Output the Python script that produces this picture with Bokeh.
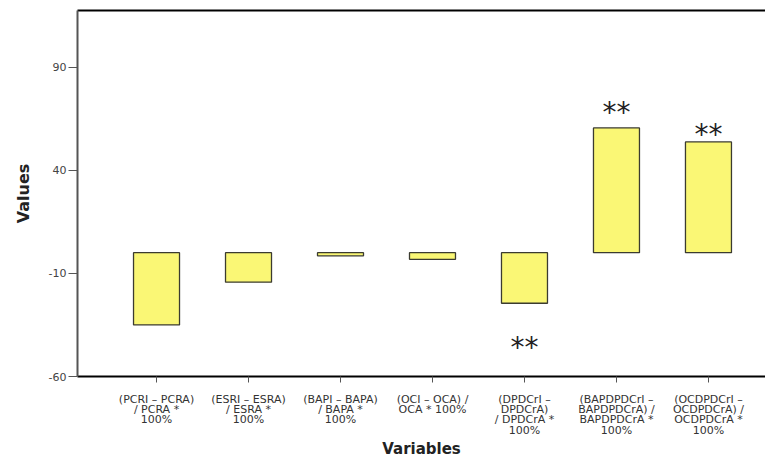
from bokeh.plotting import figure
from bokeh.models import Range1d, FixedTicker, LinearAxis, ColumnDataSource
from bokeh.core.properties import value
from bokeh.embed import file_html
from bokeh.resources import INLINE

# ---- data ----
categories = [
    "(PCRI – PCRA)\n/ PCRA *\n100%",
    "(ESRI – ESRA)\n/ ESRA *\n100%",
    "(BAPI – BAPA)\n/ BAPA *\n100%",
    "(OCI – OCA) /\nOCA * 100%",
    "(DPDCrI –\nDPDCrA)\n/ DPDCrA *\n100%",
    "(BAPDPDCrI –\nBAPDPDCrA) /\nBAPDPDCrA *\n100%",
    "(OCDPDCrI –\nOCDPDCrA) /\nOCDPDCrA *\n100%",
]
values = [-35.0, -14.3, -1.5, -3.2, -24.5, 60.5, 53.7]
star_index = [4, 5, 6]
star_text = ["**", "**", "**"]
star_pos = [-45.8, 68.2, 57.3]
y_ticks = [-60, -10, 40, 90]

x_idx = list(range(len(categories)))
src = ColumnDataSource(dict(x=x_idx, top=values, bottom=[0] * len(values)))
star_src = ColumnDataSource(dict(x=star_index, y=star_pos, t=star_text))

p = figure(width=765, height=460, output_backend="svg", toolbar_location=None,
           x_range=Range1d(-0.859, 6.62), y_range=Range1d(-60, 117.4),
           min_border_left=77, min_border_top=10, min_border_right=0, min_border_bottom=84)
p.outline_line_color = None
p.xgrid.visible = False
p.ygrid.visible = False
p.background_fill_color = "white"

p.vbar(x="x", top="top", bottom="bottom", width=0.5, source=src,
       fill_color="#faf775", line_color="#3b3b30", line_width=1.3)

p.text(x="x", y="y", text="t", source=star_src, text_align="center", text_baseline="middle",
       text_font=value("DejaVu Sans"), text_font_size="28px", text_color="#222222")

# x axis
xa = p.xaxis[0]
xa.ticker = FixedTicker(ticks=x_idx)
xa.major_label_overrides = {i: c for i, c in zip(x_idx, categories)}
xa.axis_line_color = "black"
xa.axis_line_width = 2
xa.major_tick_line_color = "#555555"
xa.major_tick_in = 0
xa.major_tick_out = 6
xa.minor_tick_line_color = None
xa.major_label_standoff = 10
xa.major_label_text_font = "DejaVu Sans"
xa.major_label_text_font_size = "11px"
xa.major_label_text_color = "#333333"
xa.major_label_text_line_height = 0.8
xa.axis_label = "Variables"
xa.axis_label_text_font = "DejaVu Sans"
xa.axis_label_text_font_style = "bold"
xa.axis_label_text_font_size = "15px"
xa.axis_label_text_color = "#222222"
xa.axis_label_standoff = 0

# y axis
ya = p.yaxis[0]
ya.ticker = FixedTicker(ticks=y_ticks)
ya.major_label_overrides = {t: str(t) for t in y_ticks}
ya.axis_line_color = "#555555"
ya.axis_line_width = 2
ya.major_tick_line_color = "#555555"
ya.major_tick_in = 0
ya.major_tick_out = 9
ya.minor_tick_line_color = None
ya.major_label_standoff = 2
ya.major_label_text_font = "DejaVu Sans"
ya.major_label_text_font_size = "11px"
ya.major_label_text_color = "#444444"
ya.axis_label = "Values"
ya.axis_label_text_font = "DejaVu Sans"
ya.axis_label_text_font_style = "bold"
ya.axis_label_text_font_size = "16px"
ya.axis_label_text_color = "#222222"
ya.axis_label_standoff = 13

# top border line
top = LinearAxis(ticker=FixedTicker(ticks=[]), major_label_text_font_size="0px",
                 axis_line_color="black", axis_line_width=2,
                 major_tick_line_color=None, minor_tick_line_color=None)
p.add_layout(top, "above")

open("out.html", "w").write(file_html(p, INLINE))
